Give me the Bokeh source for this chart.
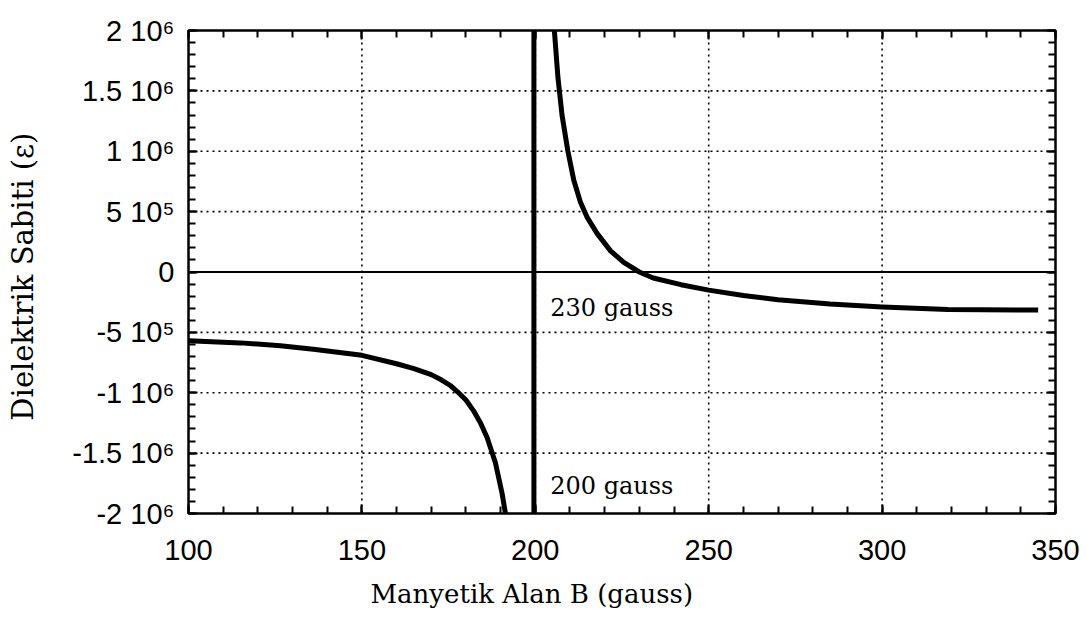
from bokeh.plotting import figure
from bokeh.models import (LinearAxis, FixedTicker, Span, Title, Range1d,
                          CustomJSTickFormatter)
from bokeh.core.properties import value
from bokeh.embed import file_html
from bokeh.resources import INLINE
import numpy as np

# ---- data ----
left_B = [100, 115, 126.5, 136, 150, 160, 165, 170, 173, 175.5, 177.5, 180,
          182.2, 184.2, 186.1, 188.5, 190.4, 191.4]
left_eps = [-5.7e5, -5.87e5, -6.1e5, -6.4e5, -6.9e5, -7.6e5, -8.0e5, -8.5e5,
            -8.95e5, -9.4e5, -9.9e5, -1.06e6, -1.15e6, -1.25e6, -1.37e6,
            -1.58e6, -1.83e6, -2.0e6]

res_B = [199.6, 199.6]
res_eps = [-2.0e6, 2.0e6]

right_B = [205.5, 206.5, 207.7, 209.4, 211.1, 213, 215, 217.8, 221.7, 225.5,
           230, 234, 242, 250, 260, 270, 285, 300, 319, 345]
right_eps = [2.0e6, 1.62e6, 1.3e6, 1.0e6, 7.6e5, 5.8e5, 4.5e5, 3.2e5, 1.75e5,
             8.0e4, 0.0, -5.0e4, -1.05e5, -1.5e5, -1.95e5, -2.3e5, -2.65e5,
             -2.9e5, -3.1e5, -3.15e5]

x_ticks = [100, 150, 200, 250, 300, 350]
y_ticks = [-2e6, -1.5e6, -1e6, -5e5, 0, 5e5, 1e6, 1.5e6, 2e6]
y_tick_labels = ["-2 10\u2076", "-1.5 10\u2076", "-1 10\u2076", "-5 10\u2075", "0",
                 "5 10\u2075", "1 10\u2076", "1.5 10\u2076", "2 10\u2076"]

annot_B = [204.3, 204.3]
annot_eps = [-3.0e5, -1.77e6]
annot_text = ["230 gauss", "200 gauss"]

x_label = "Manyetik Alan  B (gauss)"
y_label = "Dielektrik Sabiti  (\u03b5)"

# ---- figure ----
p = figure(width=1087, height=623, x_range=Range1d(100, 350), y_range=Range1d(-2e6, 2e6),
           output_backend="svg", toolbar_location=None, x_axis_location=None,
           y_axis_location=None,
           min_border_left=188, min_border_right=32, min_border_top=30,
           min_border_bottom=110)
p.background_fill_color = "white"
p.border_fill_color = "white"
p.outline_line_color = "black"
p.outline_line_width = 2

x_minor = list(np.arange(100, 351, 10))
y_minor = list(np.arange(-2e6, 2.0001e6, 1e5))

def make_axis(loc, is_x, show_labels):
    ax = LinearAxis()
    ax.ticker = FixedTicker(ticks=x_ticks if is_x else y_ticks,
                            minor_ticks=x_minor if is_x else y_minor)
    ax.axis_line_color = "black"
    ax.axis_line_width = 2
    ax.major_tick_in = 9
    ax.major_tick_out = 0
    ax.minor_tick_in = 7
    ax.minor_tick_out = 0
    ax.major_tick_line_width = 2
    ax.minor_tick_line_width = 2
    ax.major_tick_line_color = "black"
    ax.minor_tick_line_color = "black"
    if show_labels:
        ax.major_label_text_font = "Liberation Sans"
        ax.major_label_text_color = "black"
    else:
        ax.formatter = CustomJSTickFormatter(code="return ''")
        ax.major_label_standoff = 0
    p.add_layout(ax, loc)
    return ax

xb = make_axis("below", True, True)
xb.major_label_text_font_size = "29px"
xb.major_label_standoff = 26

yl = make_axis("left", False, True)
yl.major_label_text_font_size = "29px"
yl.major_label_standoff = 14
yl.major_label_overrides = {t: lab for t, lab in zip(y_ticks, y_tick_labels)}
yl.axis_label = y_label
yl.axis_label_text_font = "DejaVu Serif"
yl.axis_label_text_font_size = "29px"
yl.axis_label_text_font_style = "normal"
yl.axis_label_text_color = "black"
yl.axis_label_standoff = 29

make_axis("above", True, False)
make_axis("right", False, False)

# grid
p.xgrid.visible = False
p.ygrid.visible = False
for xv in x_ticks[1:-1]:
    p.add_layout(Span(location=xv, dimension="height", line_color="black",
                      line_width=1.6, line_dash="2 4"))
for yv in y_ticks[1:-1]:
    if yv == 0:
        p.add_layout(Span(location=yv, dimension="width", line_color="black",
                          line_width=2))
    else:
        p.add_layout(Span(location=yv, dimension="width", line_color="black",
                          line_width=1.6, line_dash="2 4"))

# curves
p.line(left_B, left_eps, line_color="black", line_width=5, line_join="round")
p.line(res_B, res_eps, line_color="black", line_width=5)
p.line(right_B, right_eps, line_color="black", line_width=5, line_join="round")

# annotations
p.text(x=annot_B, y=annot_eps, text=annot_text, text_font=value("DejaVu Serif"),
       text_font_size="24px", text_baseline="middle", text_align="left",
       text_color="black")

# x axis label (placed left of centre as in the original)
p.add_layout(Title(text=x_label, align="left", offset=182, text_font="DejaVu Serif",
                   text_font_size="26px", text_font_style="normal",
                   text_color="black", standoff=29), "below")

open("out.html", "w").write(file_html(p, INLINE))
